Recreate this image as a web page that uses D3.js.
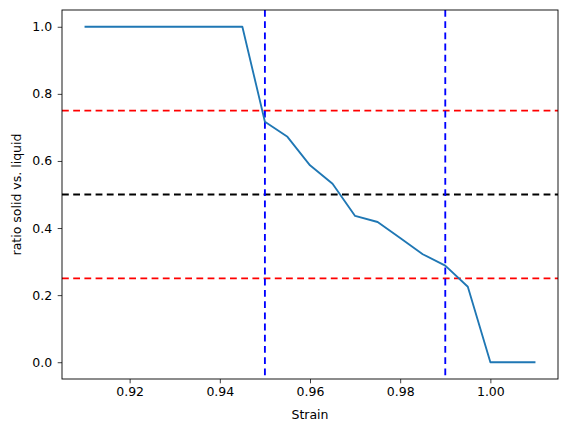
<!DOCTYPE html>
<html>
<head>
<meta charset="utf-8">
<script src="https://cdn.jsdelivr.net/npm/d3@7"></script>
<style>
  body { margin: 0; background: #fff; }
  text { font-family: "DejaVu Sans", sans-serif; fill: #000; }
</style>
</head>
<body>
<script>
// strain vs. ratio solid/liquid
const strain = [0.91, 0.915, 0.92, 0.925, 0.93, 0.935, 0.94, 0.945, 0.95, 0.955, 0.96, 0.965,
                0.97, 0.975, 0.98, 0.985, 0.99, 0.995, 1.0, 1.005, 1.01];
const ratio = [1.0, 1.0, 1.0, 1.0, 1.0, 1.0, 1.0, 1.0, 0.717, 0.672, 0.587, 0.532,
               0.436, 0.418, 0.37, 0.322, 0.288, 0.225, 0.0, 0.0, 0.0];
const hLines = [{ y: 0.75, color: "#ff0000" }, { y: 0.5, color: "#000000" }, { y: 0.25, color: "#ff0000" }];
const vLines = [0.95, 0.99];
const xTicks = [0.92, 0.94, 0.96, 0.98, 1.00];
const yTicks = [0.0, 0.2, 0.4, 0.6, 0.8, 1.0];

const W = 567, H = 433;
const m = { left: 62, right: 9, top: 10, bottom: 54 };
const iw = W - m.left - m.right, ih = H - m.top - m.bottom;

const svg = d3.select("body").append("svg")
  .attr("width", W)
  .attr("height", H);

const g = svg.append("g").attr("transform", `translate(${m.left},${m.top})`);

const x = d3.scaleLinear().domain([0.905, 1.015]).range([0, iw]);
const y = d3.scaleLinear().domain([-0.05, 1.05]).range([ih, 0]);

const dash = "6.8,4.4";

// reference lines
g.selectAll(".hl").data(hLines).enter().append("line")
  .attr("x1", 0).attr("x2", iw)
  .attr("y1", d => y(d.y)).attr("y2", d => y(d.y))
  .attr("stroke", d => d.color)
  .attr("stroke-width", 1.85)
  .attr("stroke-dasharray", dash);

g.selectAll(".vl").data(vLines).enter().append("line")
  .attr("x1", d => x(d)).attr("x2", d => x(d))
  .attr("y1", 0).attr("y2", ih)
  .attr("stroke", "#0000ff")
  .attr("stroke-width", 1.85)
  .attr("stroke-dasharray", dash);

// curve
const line = d3.line().x((d, i) => x(strain[i])).y(d => y(d));
g.append("path")
  .datum(ratio)
  .attr("fill", "none")
  .attr("stroke", "#1f77b4")
  .attr("stroke-width", 1.85)
  .attr("stroke-linejoin", "round")
  .attr("d", line);

// axes
const xAxis = g.append("g").attr("transform", `translate(0,${ih})`)
  .call(d3.axisBottom(x).tickValues(xTicks).tickFormat(d3.format(".2f")).tickSize(4.3).tickPadding(4));
const yAxis = g.append("g")
  .call(d3.axisLeft(y).tickValues(yTicks).tickFormat(d3.format(".1f")).tickSize(4.3).tickPadding(5.5));

[xAxis, yAxis].forEach(a => {
  a.select(".domain").remove();
  a.selectAll(".tick line").attr("stroke", "#000").attr("stroke-width", 0.75);
  a.selectAll(".tick text").style("font-size", "12.5px").attr("fill", "#000");
});

g.append("rect")
  .attr("width", iw).attr("height", ih)
  .attr("fill", "none")
  .attr("stroke", "#000")
  .attr("stroke-width", 0.9);

svg.append("text")
  .attr("x", m.left + iw / 2).attr("y", 419)
  .attr("text-anchor", "middle")
  .style("font-size", "12.5px")
  .text("Strain");

svg.append("text")
  .attr("transform", `translate(21,${m.top + ih / 2}) rotate(-90)`)
  .attr("text-anchor", "middle")
  .style("font-size", "12.5px")
  .text("ratio solid vs. liquid");
</script>
</body>
</html>
